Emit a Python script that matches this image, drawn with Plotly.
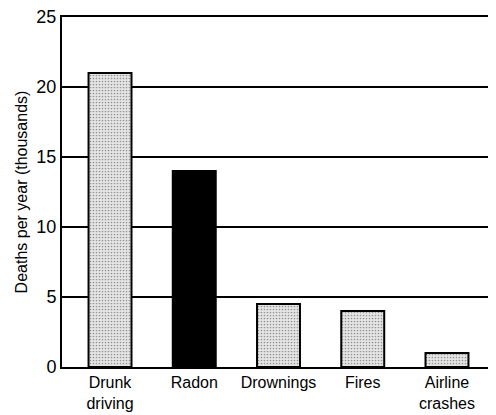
import plotly.graph_objects as go

categories = ["Drunk<br>driving", "Radon", "Drownings", "Fires", "Airline<br>crashes"]
deaths_thousands = [21, 14, 4.5, 4, 1]
bar_colors = ["#e6e6e6", "#000000", "#e6e6e6", "#e6e6e6", "#e6e6e6"]
bar_patterns = [".", "", ".", ".", "."]
y_ticks = [0, 5, 10, 15, 20, 25]

fig = go.Figure(go.Bar(
    x=list(range(len(categories))),
    y=deaths_thousands,
    marker=dict(
        color=bar_colors,
        line=dict(color="black", width=2),
        pattern=dict(shape=bar_patterns, fgcolor="#000000", bgcolor="#eeeeee",
                     size=3, solidity=0.26),
    ),
    width=0.51,
))

# page body has an 8px default margin, so the figure is offset by (8, 8)
fig.update_layout(
    width=488, height=407,
    margin=dict(l=54, r=1, t=9, b=48),
    paper_bgcolor="white", plot_bgcolor="white",
    font=dict(family="Liberation Sans, Arial, sans-serif", color="black", size=16),
    showlegend=False,
    xaxis=dict(
        range=[-0.57, 4.57], automargin=False,
        tickmode="array", tickvals=list(range(len(categories))), ticktext=categories,
        showgrid=False, showline=True, linecolor="black", linewidth=2, mirror=True,
        ticks="", tickfont=dict(size=16), zeroline=False, ticklabeloverflow="allow",
    ),
    yaxis=dict(
        range=[0, 25], automargin=False,
        tickmode="array", tickvals=y_ticks,
        showgrid=True, gridcolor="black", gridwidth=1.5,
        showline=True, linecolor="black", linewidth=2, mirror=True,
        ticks="", tickfont=dict(size=18), zeroline=False, ticklabeloverflow="allow",
        title=dict(text="Deaths per year (thousands)", font=dict(size=16), standoff=5),
    ),
)

fig.write_html("out.html")
